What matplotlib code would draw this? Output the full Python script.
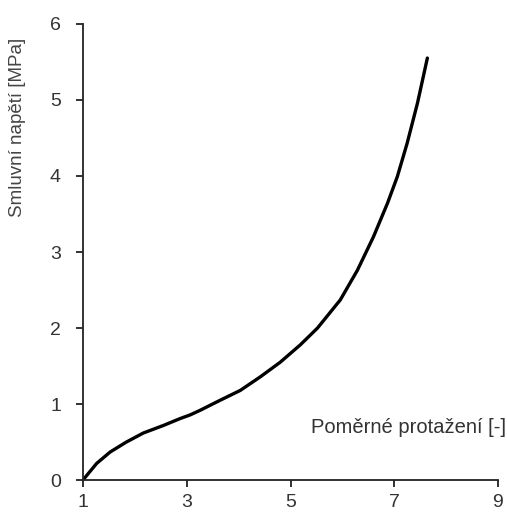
import matplotlib.pyplot as plt

plt.rcParams['font.family'] = ['Liberation Sans', 'DejaVu Sans']

# curve
strain = [1.0, 1.03, 1.26, 1.52, 1.83, 2.16, 2.55, 2.87, 3.07, 3.26, 3.64,
          4.03, 4.42, 4.80, 5.19, 5.52, 5.96, 6.29, 6.60, 6.87, 7.06,
          7.25, 7.45, 7.64]
stress = [0.0, 0.03, 0.22, 0.37, 0.50, 0.62, 0.72, 0.81, 0.86, 0.92, 1.05,
          1.18, 1.36, 1.55, 1.78, 2.00, 2.37, 2.76, 3.20, 3.64, 3.99,
          4.43, 4.96, 5.55]

x_ticks = [1, 3, 5, 7, 9]
y_ticks = [0, 1, 2, 3, 4, 5, 6]

fig = plt.figure(figsize=(5.07, 5.18), dpi=100)
ax = fig.add_axes([0.164, 0.073, 0.818, 0.881])

ax.plot(strain, stress, color='black', lw=2.4, solid_capstyle='round',
        solid_joinstyle='round')

ax.set_xlim(1, 9)
ax.set_ylim(0, 6)
ax.set_xticks(x_ticks)
ax.set_yticks(y_ticks)

for side in ['top', 'right']:
    ax.spines[side].set_visible(False)
for side in ['left', 'bottom']:
    ax.spines[side].set_linewidth(1.3)
    ax.spines[side].set_color('#222222')

ax.tick_params(axis='both', direction='out', length=5, width=1.3,
               color='#222222', labelsize=14, labelcolor='#333333')
ax.tick_params(axis='x', pad=5)
ax.tick_params(axis='y', pad=11)

ax.text(1.02, 0.095, 'Poměrné protažení [-]', transform=ax.transAxes,
        ha='right', va='bottom', fontsize=14.5, color='#333333')
fig.text(0.035, 0.755, 'Smluvní napětí [MPa]', rotation=90,
         ha='center', va='center', fontsize=13.5, color='#444444')

fig.savefig('out.png', dpi=100)
